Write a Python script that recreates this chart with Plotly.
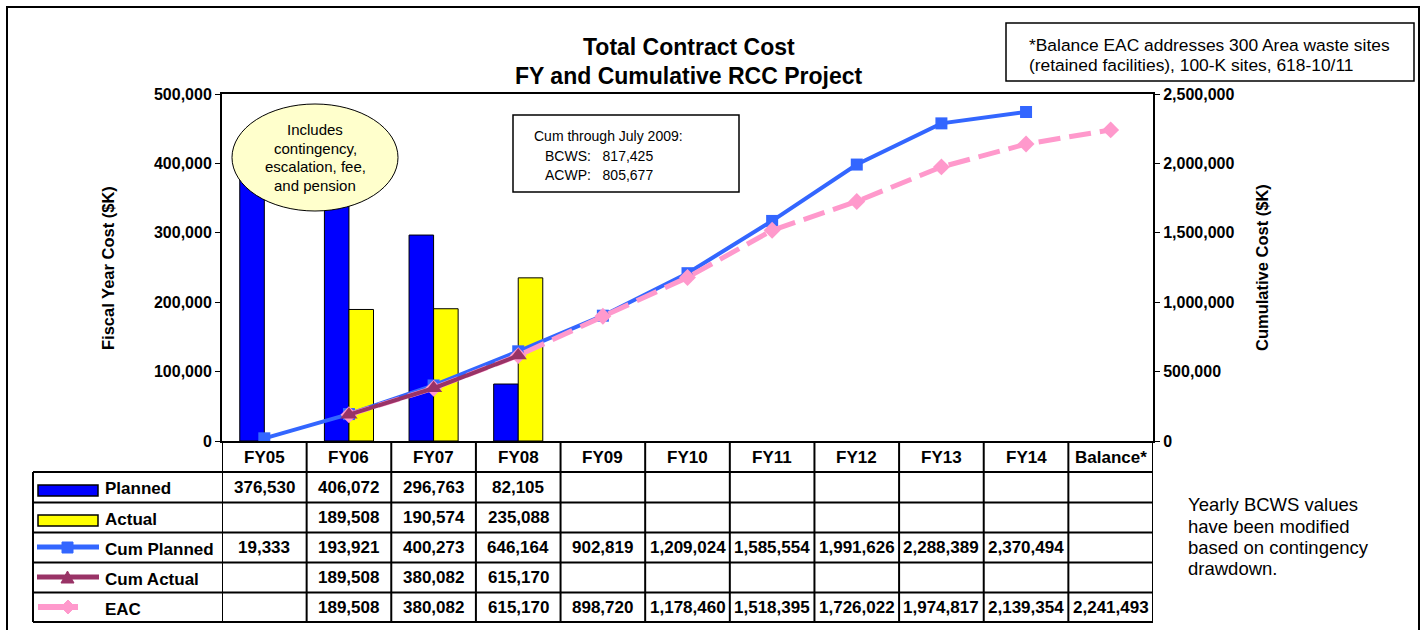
import plotly.graph_objects as go

categories = ["FY05", "FY06", "FY07", "FY08", "FY09", "FY10", "FY11", "FY12", "FY13", "FY14", "Balance*"]
planned = [376530, 406072, 296763, 82105, None, None, None, None, None, None, None]
actual = [None, 189508, 190574, 235088, None, None, None, None, None, None, None]
cum_planned = [19333, 193921, 400273, 646164, 902819, 1209024, 1585554, 1991626, 2288389, 2370494, None]
cum_actual = [None, 189508, 380082, 615170, None, None, None, None, None, None, None]
eac = [None, 189508, 380082, 615170, 898720, 1178460, 1518395, 1726022, 1974817, 2139354, 2241493]
row_names = ["Planned", "Actual", "Cum Planned", "Cum Actual", "EAC"]
row_values = [planned, actual, cum_planned, cum_actual, eac]

FONT = "Liberation Sans, Arial, sans-serif"
NARROW = "Liberation Sans Narrow, Arial Narrow, Liberation Sans, sans-serif"
C_PLAN = "#0000FF"
C_ACT = "#FFFF00"
C_CUMP = "#3366FF"
C_CUMA = "#993366"
C_EAC = "#FF99CC"

W_FIG, H_FIG = 1424, 630
PL, PR, PT, PB = 222, 1153, 94, 441
PW, PH = PR - PL, PB - PT


def px(x):
    return (x - PL) / PW


def py(y):
    return (PB - y) / PH


def txt(x, y, text, size, anchor="center", bold=False, family=FONT, **kw):
    if bold:
        text = "<b>%s</b>" % text
    d = dict(xref="paper", yref="paper", x=px(x), y=py(y), text=text, showarrow=False,
             font=dict(family=family, size=size, color="black"), xanchor=anchor, yanchor="middle")
    d.update(kw)
    return d


fig = go.Figure()
fig.add_trace(go.Bar(x=categories, y=planned, name="Planned", marker=dict(color=C_PLAN, line=dict(color="black", width=1))))
fig.add_trace(go.Bar(x=categories, y=actual, name="Actual", marker=dict(color=C_ACT, line=dict(color="black", width=1))))
fig.add_trace(go.Scatter(x=categories, y=cum_planned, name="Cum Planned", yaxis="y2", mode="lines+markers",
                         line=dict(color=C_CUMP, width=4), marker=dict(symbol="square", size=12, color=C_CUMP)))
fig.add_trace(go.Scatter(x=categories, y=eac, name="EAC", yaxis="y2", mode="lines+markers",
                         line=dict(color=C_EAC, width=5, dash="22px,9px"), marker=dict(symbol="diamond", size=13, color=C_EAC)))
fig.add_trace(go.Scatter(x=categories, y=cum_actual, name="Cum Actual", yaxis="y2", mode="lines+markers",
                         line=dict(color=C_CUMA, width=4), marker=dict(symbol="triangle-up", size=15, color=C_CUMA)))

shapes = []
ann = []

# outer border
shapes.append(dict(type="rect", xref="paper", yref="paper", x0=px(7), x1=px(1419), y0=py(634), y1=py(7),
                   line=dict(color="black", width=2), layer="below"))

# ellipse callout
shapes.append(dict(type="circle", xref="paper", yref="paper", x0=px(232), x1=px(398), y0=py(211), y1=py(104),
                   fillcolor="#FFFFCC", line=dict(color="black", width=1), layer="above"))
for i, t in enumerate(["Includes", "contingency,", "escalation, fee,", "and pension"]):
    ann.append(txt(315, 129.5 + i * 18.7, t, 15))

# Cum through box
shapes.append(dict(type="rect", xref="paper", yref="paper", x0=px(513), x1=px(739), y0=py(192), y1=py(115),
                   fillcolor="white", line=dict(color="black", width=1.5), layer="above"))
ann.append(txt(532, 136, "Cum through July 2009:", 14, anchor="left", family=NARROW))
ann.append(txt(543, 156, "BCWS:&nbsp;&nbsp;&nbsp;817,425", 14, anchor="left", family=NARROW))
ann.append(txt(543, 175, "ACWP:&nbsp;&nbsp;&nbsp;805,677", 14, anchor="left", family=NARROW))

# Balance note box
shapes.append(dict(type="rect", xref="paper", yref="paper", x0=px(1006), x1=px(1414), y0=py(81), y1=py(23),
                   fillcolor="white", line=dict(color="black", width=1.5), layer="above"))
ann.append(txt(1027, 45, "*Balance EAC addresses 300 Area waste sites", 17.4, anchor="left"))
ann.append(txt(1027, 65, "(retained facilities), 100-K sites, 618-10/11", 17.4, anchor="left"))

# Title
ann.append(txt(689, 47, "Total Contract Cost", 23, bold=True))
ann.append(txt(689, 76, "FY and Cumulative RCC Project", 23, bold=True))

# axis titles
ann.append(txt(108, 268, "Fiscal Year Cost ($K)", 16.5, bold=True, textangle=-90))
ann.append(txt(1262, 268, "Cumulative Cost ($K)", 16.5, bold=True, textangle=-90))

# Right note
for i, t in enumerate(["Yearly BCWS values", "have been modified", "based on contingency", "drawdown."]):
    ann.append(txt(1186, 505 + i * 21, t, 18.5, anchor="left"))

# Data table
row_top = [472, 502.5, 532.5, 562.5, 592.5]
row_h = 29.8
tbl_bottom = 622
n = len(categories)
for y in row_top + [tbl_bottom]:
    shapes.append(dict(type="line", xref="paper", yref="paper", x0=px(33), x1=px(PR), y0=py(y), y1=py(y),
                       line=dict(color="black", width=2)))
shapes.append(dict(type="line", xref="paper", yref="paper", x0=px(33), x1=px(33), y0=py(472), y1=py(tbl_bottom),
                   line=dict(color="black", width=2)))
for k in range(n + 1):
    shapes.append(dict(type="line", xref="x", yref="paper", x0=k - 0.5, x1=k - 0.5, y0=py(PB), y1=py(tbl_bottom),
                       line=dict(color="black", width=2)))
for k, c in enumerate(categories):
    ann.append(dict(xref="x", yref="paper", x=c, y=py(457), text="<b>%s</b>" % c, showarrow=False,
                    font=dict(family=FONT, size=17, color="black"), xanchor="center", yanchor="middle"))
for r, vals in enumerate(row_values):
    yc = row_top[r] + row_h / 2
    for k, v in enumerate(vals):
        if v is None:
            continue
        ann.append(dict(xref="x", yref="paper", x=categories[k], y=py(yc + 0.5), text="<b>{:,}</b>".format(v),
                        showarrow=False, font=dict(family=FONT, size=17, color="black"),
                        xanchor="center", yanchor="middle"))
    ann.append(txt(103, yc + 2, row_names[r], 17, anchor="left", bold=True))

# legend keys
shapes.append(dict(type="rect", xref="paper", yref="paper", x0=px(38), x1=px(98), y0=py(496), y1=py(485),
                   fillcolor=C_PLAN, line=dict(color="black", width=1.5)))
shapes.append(dict(type="rect", xref="paper", yref="paper", x0=px(38), x1=px(98), y0=py(526), y1=py(515),
                   fillcolor=C_ACT, line=dict(color="black", width=1.5)))
shapes.append(dict(type="line", xref="paper", yref="paper", x0=px(37), x1=px(99), y0=py(547), y1=py(547),
                   line=dict(color=C_CUMP, width=5)))
shapes.append(dict(type="rect", xref="paper", yref="paper", x0=px(62), x1=px(73), y0=py(553), y1=py(542),
                   fillcolor=C_CUMP, line=dict(color=C_CUMP, width=1)))
shapes.append(dict(type="line", xref="paper", yref="paper", x0=px(37), x1=px(99), y0=py(577), y1=py(577),
                   line=dict(color=C_CUMA, width=5)))


def path(points):
    return "M " + " L ".join("%f,%f" % (px(a), py(b)) for a, b in points) + " Z"


shapes.append(dict(type="path", xref="paper", yref="paper", path=path([(61, 583), (74, 583), (67.5, 571)]),
                   fillcolor=C_CUMA, line=dict(color=C_CUMA, width=1)))
shapes.append(dict(type="line", xref="paper", yref="paper", x0=px(38), x1=px(78), y0=py(607), y1=py(607),
                   line=dict(color=C_EAC, width=6)))
shapes.append(dict(type="path", xref="paper", yref="paper", path=path([(68, 600), (75, 607), (68, 614), (61, 607)]),
                   fillcolor=C_EAC, line=dict(color=C_EAC, width=1)))

fig.update_layout(
    width=W_FIG, height=H_FIG,
    margin=dict(l=PL, r=W_FIG - PR, t=PT, b=H_FIG - PB, pad=0),
    paper_bgcolor="white", plot_bgcolor="white",
    showlegend=False, barmode="group", bargap=0.42, bargroupgap=0,
    font=dict(family=FONT, color="black"),
    shapes=shapes, annotations=ann,
    xaxis=dict(type="category", categoryorder="array", categoryarray=categories, range=[-0.5, n - 0.5],
               showticklabels=False, ticks="", showgrid=False, zeroline=False,
               showline=True, linecolor="black", linewidth=2, mirror=True),
    yaxis=dict(range=[0, 500000], dtick=100000, tickformat=",.0f", showgrid=False, zeroline=False,
               ticks="outside", ticklen=5, tickcolor="black", tickwidth=1,
               showline=True, linecolor="black", linewidth=2,
               tickfont=dict(family=FONT, size=16, color="black", weight="bold")),
    yaxis2=dict(range=[0, 2500000], dtick=500000, tickformat=",.0f", overlaying="y", side="right",
                showgrid=False, zeroline=False, ticks="outside", ticklen=5, tickcolor="black", tickwidth=1,
                showline=True, linecolor="black", linewidth=2,
                tickfont=dict(family=FONT, size=16, color="black", weight="bold")),
)

fig.write_html("out.html", config={"displayModeBar": False}, post_script="document.body.style.margin='0';")
